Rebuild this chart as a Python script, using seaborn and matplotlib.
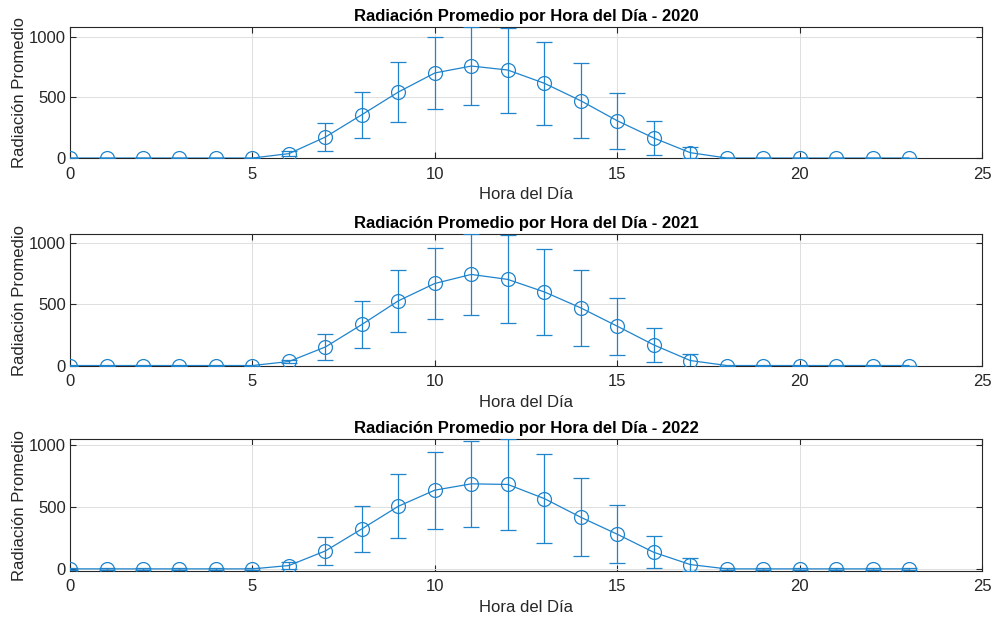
import numpy as np
import pandas as pd
import matplotlib
matplotlib.use("Agg")
import matplotlib.pyplot as plt
import seaborn as sns

hours = list(range(24))
years = ["2020", "2021", "2022"]

mean_2020 = [0, 0, 0, 0, 0, 0, 36, 173, 357, 544, 701, 758, 725, 616, 472, 307, 165, 44, 0, 0, 0, 0, 0, 0]
err_2020 = [0, 0, 0, 0, 0, 0, 18, 114, 190, 250, 293, 321, 350, 342, 307, 230, 140, 45, 0, 0, 0, 0, 0, 0]

mean_2021 = [0, 0, 0, 0, 0, 0, 33, 152, 336, 530, 672, 746, 705, 603, 472, 322, 169, 41, 0, 0, 0, 0, 0, 0]
err_2021 = [0, 0, 0, 0, 0, 0, 15, 105, 190, 252, 292, 334, 360, 351, 310, 233, 140, 54, 0, 0, 0, 0, 0, 0]

mean_2022 = [3, 3, 3, 3, 3, 3, 30, 148, 326, 509, 639, 690, 685, 571, 420, 283, 137, 38, 3, 3, 3, 3, 3, 3]
err_2022 = [8, 8, 8, 8, 8, 8, 28, 110, 188, 260, 311, 345, 366, 363, 315, 235, 130, 53, 8, 8, 8, 8, 8, 8]

means = [mean_2020, mean_2021, mean_2022]
errs = [err_2020, err_2021, err_2022]
ylims = [(-4, 1080), (-4, 1077), (-14, 1052)]

sns.set_theme(style="whitegrid")
plt.rcParams["font.family"] = ["Liberation Sans", "DejaVu Sans"]

blue = "#1f84cc"
dark = "#262626"

fig = plt.figure(figsize=(9.95, 6.23), dpi=100)
positions = [
    [0.0704, 0.7456, 0.9166, 0.2111],
    [0.0704, 0.4125, 0.9166, 0.2119],
    [0.0704, 0.0835, 0.9166, 0.2118],
]

for i, yr in enumerate(years):
    ax = fig.add_axes(positions[i])
    df = pd.DataFrame({"Hora": hours, "Rad": means[i], "Err": errs[i]})
    ax.errorbar(df["Hora"], df["Rad"], yerr=df["Err"], fmt="none",
                ecolor=blue, elinewidth=0.9, capsize=5.5, capthick=0.9,
                zorder=3)
    sns.lineplot(data=df, x="Hora", y="Rad", ax=ax, color=blue,
                 linewidth=0.9, marker="o", markersize=10,
                 markerfacecolor="none", markeredgecolor=blue,
                 markeredgewidth=0.9, zorder=4)
    ax.set_xlim(0, 25)
    ax.set_ylim(*ylims[i])
    ax.set_xticks([0, 5, 10, 15, 20, 25])
    ax.set_yticks([0, 500, 1000])
    ax.grid(True, color="#dfdfdf", linewidth=0.7)
    ax.set_axisbelow(True)
    for s in ax.spines.values():
        s.set_visible(True)
        s.set_color(dark)
        s.set_linewidth(0.8)
    ax.tick_params(axis="both", which="both", direction="in", length=4,
                   width=0.8, color=dark, labelcolor=dark, labelsize=12,
                   top=True, right=True, bottom=True, left=True)
    ax.tick_params(axis="x", pad=6)
    ax.tick_params(axis="y", pad=3)
    ax.set_xlabel("Hora del Día", fontsize=12, color=dark, labelpad=4)
    ax.set_ylabel("Radiación Promedio", fontsize=12, color=dark, labelpad=1)
    ax.set_title(f"Radiación Promedio por Hora del Día - {yr}",
                 fontsize=12, fontweight="bold", color="black", pad=4)

fig.savefig("out.png", dpi=100, facecolor="white")
